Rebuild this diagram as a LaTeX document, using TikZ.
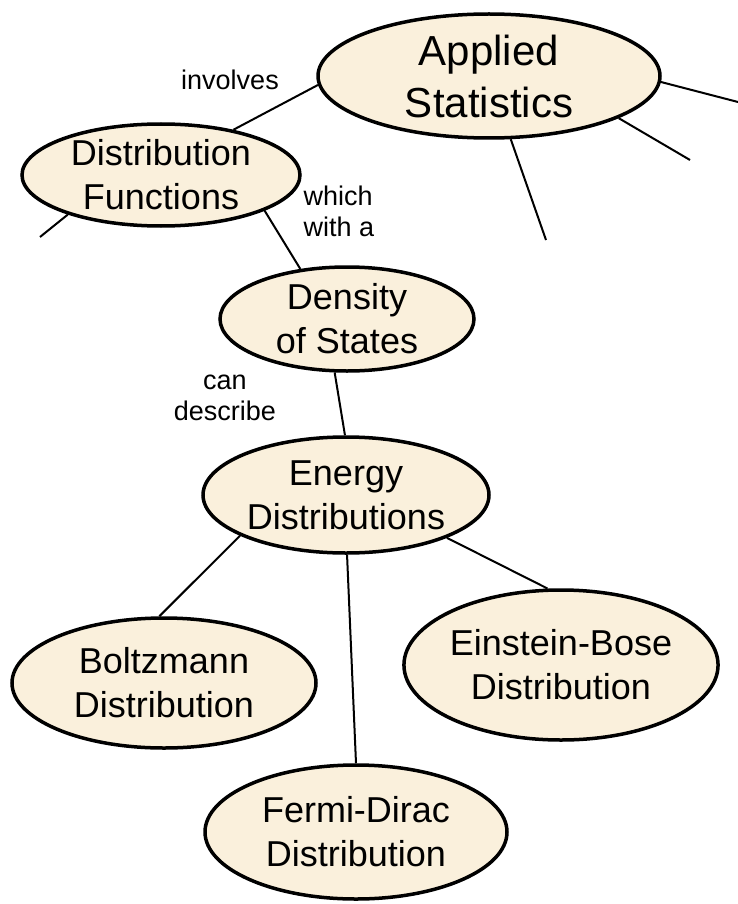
\documentclass[tikz,border=0pt]{standalone}
\usepackage{fontspec}
\setmainfont{Liberation Sans}
\usetikzlibrary{shapes.geometric,positioning}
\definecolor{conceptfill}{RGB}{250,240,220}
\tikzset{
  concept/.style={ellipse, draw=black, line width=3.5pt, fill=conceptfill, inner sep=0pt, align=center, font=\fontsize{36}{44}\selectfont},
  link/.style={line width=2pt},
  linklabel/.style={align=center, inner sep=0pt, font=\fontsize{27}{31}\selectfont},
}

\begin{document}
\begin{tikzpicture}[x=1pt,y=-1pt]
    \useasboundingbox (0,0) rectangle (738,904);

    \node[concept, minimum width=342pt, minimum height=124pt, font=\fontsize{42}{52}\selectfont] (applied_stat) at (489,76) {Applied\\Statistics};
    \node[concept, minimum width=278pt, minimum height=102pt] (dist_func) at (161,175) {Distribution\\Functions};
    \node[concept, minimum width=254pt, minimum height=104pt] (dens_states) at (347,319) {Density\\of States};
    \node[concept, minimum width=286pt, minimum height=116pt] (energy_dist) at (346,495) {Energy\\Distributions};
    \node[concept, minimum width=304pt, minimum height=130pt] (boltzmann) at (164,683) {Boltzmann\\Distribution};
    \node[concept, minimum width=312pt, minimum height=150pt] (einstein_bose) at (561,665) {Einstein-Bose\\Distribution};
    \node[concept, minimum width=302pt, minimum height=134pt] (fermi_dirac) at (356,832) {Fermi-Dirac\\Distribution};

    \draw[link] (applied_stat.183) -- (dist_func.32);
    \draw[link] (dist_func.-19) -- (dens_states.133);
    \draw[link] (dens_states.-103) -- (energy_dist.91);
    \draw[link] (energy_dist.201) -- (boltzmann.94);
    \draw[link] (energy_dist.-89) -- (fermi_dirac.90);
    \draw[link] (energy_dist.-23) -- (einstein_bose.100);

    \coordinate (out_east) at (738,102);
    \coordinate (out_se) at (690,160);
    \coordinate (out_s) at (546,240);
    \coordinate (out_sw) at (40,237);
    \draw[link] (applied_stat.-2) -- (out_east);
    \draw[link] (applied_stat.-18) -- (out_se);
    \draw[link] (applied_stat.-71) -- (out_s);
    \draw[link] (dist_func.203) -- (out_sw);

    \node[linklabel] (lbl_involves) at (230,80) {involves};
    \node[linklabel, align=left] (lbl_which) at (339,211) {which\\with a};
    \node[linklabel] (lbl_describe) at (225,398) {can\\describe};
\end{tikzpicture}
\end{document}
